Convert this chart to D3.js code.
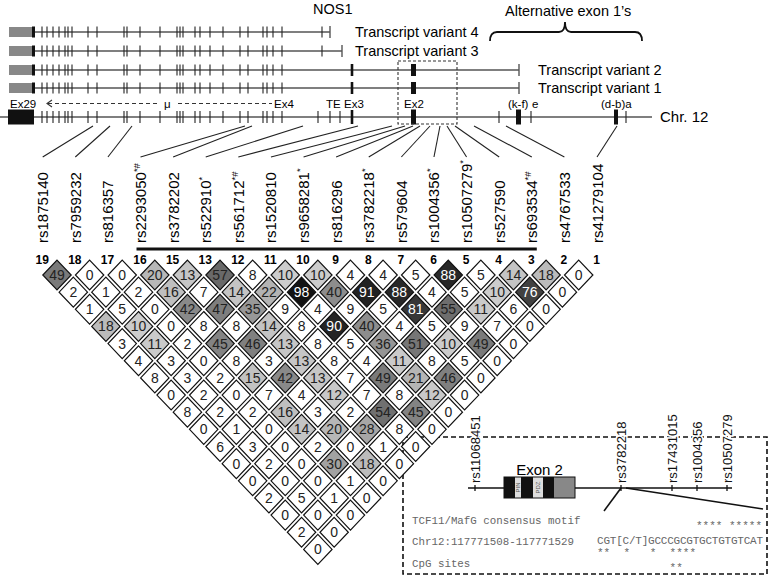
<!DOCTYPE html>
<html><head><meta charset="utf-8">
<script src="https://cdn.jsdelivr.net/npm/d3@7"></script>
<style>
body{margin:0;background:#fff}
svg{display:block}
text{font-family:"Liberation Sans",Arial,Helvetica,sans-serif}
.mono{font-family:"Liberation Mono","DejaVu Sans Mono",monospace;fill:#666}
</style>
</head><body><svg id="c" width="776" height="576"></svg>
<script>
// ---------- data ----------
const snpNumbers = [19,18,17,16,15,13,12,11,10,9,8,7,6,5,4,3,2,1];
const snpIds = ["rs1875140","rs7959232","rs816357","rs2293050","rs3782202","rs522910","rs561712","rs1520810","rs9658281","rs816296","rs3782218","rs579604","rs1004356","rs10507279","rs527590","rs693534","rs4767533","rs41279104"];
const snpMarks = ["","","","*#","","*","*#","","*","","*","","*","*","","*#","",""];
// approximate location along the gene (kb from the Ex29 end)
const snpGenomePos = [21.25,25.5,31,59.25,61,73.75,87.5,96,99.25,101.25,103,105.5,108,109.75,111.75,116.5,124.5,152.25];
// LD (r^2 x 100), rows by SNP distance 1..17
const ldRows = [
 [49,0,0,20,13,57,8,10,10,4,4,5,88,5,14,18,0],
 [2,1,2,16,7,14,22,98,40,91,88,4,5,10,76,0],
 [1,5,0,42,47,35,9,4,9,5,81,55,11,6,0],
 [18,10,0,8,8,14,8,90,40,4,5,9,7,0],
 [3,11,2,45,46,13,8,5,36,51,10,49,0],
 [4,3,0,8,3,13,8,4,11,8,5,0],
 [8,3,2,15,42,13,7,49,21,46,0],
 [0,2,0,7,4,12,7,8,12,0],
 [8,2,2,16,3,2,54,45,0],
 [0,1,0,14,20,28,8,0],
 [6,3,0,2,0,1,0],
 [0,2,0,30,18,0],
 [0,0,0,1,0],
 [2,5,1,0],
 [0,0,0],
 [2,0],
 [0]
];
const haplotypeBlock = [3, 15]; // SNP index range underlined
// gene model (kb)
const exonTicks = [8.5,9.75,11.25,12.75,14.25,15,16,20,22.25,29,29.75,33,38,42.25,43,43.75,46.75,48,50.5,53.75,58,60,63.75,64.75,66.25,68.5];
const firstExon = [0.25, 6, 6.75];
const transcripts = [
 {name:"Transcript variant 4", end:80.5, exons:[78.5], ex2:null},
 {name:"Transcript variant 3", end:83.5, exons:[78.5], ex2:null},
 {name:"Transcript variant 2", end:127.75, exons:[], ex3:86, ex2:[100.75,102]},
 {name:"Transcript variant 1", end:127.75, exons:[], ex3:86, ex2:[100.75,102]}
];
const chrTicks = [77.5,80.5,83,122.75,130.75,154.5];
const chrBoxes = [[0,6.5],[100.75,102],[127,128.25],[151.5,152.5]];
const chrEx3 = 86;
const chrLabels = [
 {t:"Ex29",p:0.5},{t:"μ",p:39},{t:"Ex4",p:66.5},{t:"TE",p:79.5},{t:"Ex3",p:84},{t:"Ex2",p:99},{t:"(k-f)",p:125},{t:"e",p:131},{t:"(d-b)a",p:148.25}
];
const ex2Window = [97.5, 112.25];
// inset
const insetSnps = ["rs11068451","rs3782218","rs17431015","rs1004356","rs10507279"];
const insetSnpPos = [7,153,204,229,259];
const exon2Parts = [[36,47,"b",""],[47,53,"w","PIN"],[53,65,"b",""],[65,75,"w","PDZ"],[75,86,"b",""],[86,107,"g",""]];
const seqText = "CGT[C/T]GCCCGCGTGCTGTGTCAT";
const motifMarks = "               **** *****";
const cpgMarks1 = "**  *   *  ****";
const cpgMarks2 = "           **";

// ---------- drawing ----------
const svg = d3.select("#c");
const gx = d3.scaleLinear().domain([0,161]).range([8,652]);
const sx = d3.scaleLinear().domain([0,17]).range([40.7,595]);
const ry = d3.scaleLinear().domain([1,17]).range([275,549.4]);
const gray = d3.scaleLinear().domain([10,100]).range([204,15]).clamp(true);
const fillFor = v => v < 10 ? "#fff" : d3.rgb(gray(v),gray(v),gray(v)).toString();

// inset box (behind triangle)
const ix = d3.scaleLinear().domain([0,264]).range([468,732]);
svg.append("rect").attr("x",403).attr("y",437).attr("width",364).attr("height",137)
  .attr("fill","none").attr("stroke","#111").attr("stroke-width",1.6).attr("stroke-dasharray","5,3");

// ---- gene model ----
const G = svg.append("g");
G.append("text").attr("x",313).attr("y",14).attr("font-size",14.5).text("NOS1");
G.append("text").attr("x",505).attr("y",16).attr("font-size",14.5).text("Alternative exon 1’s");
G.append("path").attr("d","M490,41 Q490,32 497,32 H559 Q565,32 565,22 Q565,32 571,32 H635 Q642,32 642,41")
  .attr("fill","none").attr("stroke","#111").attr("stroke-width",1.8);

const tY = [32,51,70,88];
const labX = [355,355,538,538];
transcripts.forEach((t,k)=>{
  const y = tY[k];
  G.append("line").attr("x1",gx(firstExon[2])).attr("x2",gx(t.end)).attr("y1",y).attr("y2",y).attr("stroke","#555").attr("stroke-width",1.4);
  G.append("line").attr("x1",gx(t.end)).attr("x2",gx(t.end)).attr("y1",y-6).attr("y2",y+6).attr("stroke","#555").attr("stroke-width",1.4);
  G.append("rect").attr("x",gx(firstExon[0])).attr("y",y-5).attr("width",gx(firstExon[1])-gx(firstExon[0])).attr("height",10).attr("fill","#888");
  G.append("rect").attr("x",gx(firstExon[1])).attr("y",y-5.5).attr("width",gx(firstExon[2])-gx(firstExon[1])).attr("height",11).attr("fill","#111");
  exonTicks.concat(t.exons).forEach(p=>{
    G.append("line").attr("x1",gx(p)).attr("x2",gx(p)).attr("y1",y-5.5).attr("y2",y+5.5).attr("stroke","#222").attr("stroke-width",1.1);
  });
  if (t.ex3) G.append("line").attr("x1",gx(t.ex3)).attr("x2",gx(t.ex3)).attr("y1",y-6).attr("y2",y+6).attr("stroke","#111").attr("stroke-width",2.6);
  if (t.ex2) G.append("rect").attr("x",gx(t.ex2[0])).attr("y",y-6).attr("width",gx(t.ex2[1])-gx(t.ex2[0])).attr("height",12).attr("fill","#111");
  G.append("text").attr("x",labX[k]).attr("y",y+5).attr("font-size",14.5).text(t.name);
});

// chromosome line
const cY = 117;
G.append("line").attr("x1",gx(-2)).attr("x2",gx(161)).attr("y1",cY).attr("y2",cY).attr("stroke","#555").attr("stroke-width",1.4);
exonTicks.concat(chrTicks).forEach(p=>{
  G.append("line").attr("x1",gx(p)).attr("x2",gx(p)).attr("y1",cY-6).attr("y2",cY+6).attr("stroke","#222").attr("stroke-width",1.1);
});
G.append("line").attr("x1",gx(chrEx3)).attr("x2",gx(chrEx3)).attr("y1",cY-7).attr("y2",cY+7).attr("stroke","#111").attr("stroke-width",2.6);
chrBoxes.forEach(b=>{
  G.append("rect").attr("x",gx(b[0])).attr("y",cY-7.5).attr("width",gx(b[1])-gx(b[0])).attr("height",15).attr("fill","#111");
});
chrLabels.forEach(l=>{
  G.append("text").attr("x",gx(l.p)).attr("y",107.5).attr("font-size",11.5).text(l.t);
});
// dashed arrow
G.append("line").attr("x1",gx(10)).attr("x2",gx(38)).attr("y1",103.5).attr("y2",103.5).attr("stroke","#333").attr("stroke-width",1.1).attr("stroke-dasharray","4,3");
G.append("line").attr("x1",gx(42.5)).attr("x2",gx(66)).attr("y1",103.5).attr("y2",103.5).attr("stroke","#333").attr("stroke-width",1.1).attr("stroke-dasharray","4,3");
G.append("path").attr("d",`M${gx(10)+4},100 L${gx(10)-1},103.5 L${gx(10)+4},107`).attr("fill","none").attr("stroke","#333").attr("stroke-width",1.1);
G.append("text").attr("x",660).attr("y",122).attr("font-size",15).text("Chr. 12");
// dashed window around Ex2
G.append("rect").attr("x",gx(ex2Window[0])).attr("y",61).attr("width",gx(ex2Window[1])-gx(ex2Window[0])).attr("height",63)
  .attr("fill","none").attr("stroke","#333").attr("stroke-width",1.1).attr("stroke-dasharray","3,2");

// ---- SNP labels & connectors ----
const L = svg.append("g");
snpIds.forEach((id,i)=>{
  const cx = sx(i)+2;
  L.append("line").attr("x1",gx(snpGenomePos[i])).attr("y1",126).attr("x2",cx).attr("y2",157)
    .attr("stroke","#222").attr("stroke-width",1.1);
  const t = L.append("text").attr("transform",`translate(${cx+5.5},243) rotate(-90)`).attr("font-size",15).text(id);
  if (snpMarks[i]) t.append("tspan").attr("font-size",9.5).attr("dy",-6).text(snpMarks[i]);
});
L.append("line").attr("x1",sx(haplotypeBlock[0])-2).attr("x2",sx(haplotypeBlock[1])+7).attr("y1",249).attr("y2",249)
  .attr("stroke","#111").attr("stroke-width",3);
snpNumbers.forEach((n,i)=>{
  L.append("text").attr("x",sx(i)+1.5).attr("y",264).attr("text-anchor","middle").attr("font-size",12).attr("font-weight","bold").text(n);
});

// ---- LD triangle ----
const T = svg.append("g");
const hw = (sx(1)-sx(0))/2 - 2.1, hh = (ry(2)-ry(1)) - 2.2;
ldRows.forEach((row,r)=>{
  const d = r+1;
  row.forEach((v,i)=>{
    const cx = (sx(i)+sx(i+d))/2, cy = ry(d);
    T.append("path").attr("d",`M${cx},${cy-hh} L${cx+hw},${cy} L${cx},${cy+hh} L${cx-hw},${cy} Z`)
      .attr("fill",fillFor(v)).attr("stroke","#111").attr("stroke-width",1.2);
    T.append("text").attr("x",cx).attr("y",cy+5).attr("text-anchor","middle").attr("font-size",14)
      .attr("fill", v>=70 ? "#fff" : "#222").text(v);
  });
});

// ---- inset ----
const I = svg.append("g");
const iy = 488;
I.append("line").attr("x1",ix(0)).attr("x2",ix(264)).attr("y1",iy).attr("y2",iy).attr("stroke","#111").attr("stroke-width",1.6);
insetSnps.forEach((s,k)=>{
  const x = ix(insetSnpPos[k]);
  I.append("line").attr("x1",x).attr("x2",x).attr("y1",iy-3).attr("y2",iy+3).attr("stroke","#111").attr("stroke-width",1.3);
  I.append("text").attr("transform",`translate(${x+4.5},483) rotate(-90)`).attr("font-size",13)
    .attr("stroke","#fff").attr("stroke-width",3).attr("paint-order","stroke").attr("fill","#111").text(s);
});
exon2Parts.forEach(p=>{
  const x0 = ix(p[0]), w = ix(p[1])-ix(p[0]);
  I.append("rect").attr("x",x0).attr("y",477).attr("width",w).attr("height",21)
    .attr("fill", p[2]==="b" ? "#111" : p[2]==="g" ? "#888" : "#ddd");
  if (p[3]) I.append("text").attr("transform",`translate(${x0+w/2+2},${487.5}) rotate(-90)`).attr("text-anchor","middle")
    .attr("font-size",6).attr("fill","#555").text(p[3]);
});
I.append("rect").attr("x",ix(36)).attr("y",477).attr("width",ix(107)-ix(36)).attr("height",21).attr("fill","none").attr("stroke","#111").attr("stroke-width",1);
I.append("text").attr("x",(ix(36)+ix(107))/2).attr("y",475).attr("text-anchor","middle").attr("font-size",15).text("Exon 2");
I.append("line").attr("x1",ix(153)).attr("y1",iy).attr("x2",ix(136)).attr("y2",511).attr("stroke","#111").attr("stroke-width",1.6);
I.append("line").attr("x1",ix(158)).attr("y1",iy).attr("x2",ix(295)).attr("y2",509).attr("stroke","#111").attr("stroke-width",1.6);
I.append("text").attr("class","mono").attr("x",412).attr("y",524).attr("font-size",10.8).text("TCF11/MafG consensus motif");
I.append("text").attr("class","mono").attr("x",412).attr("y",545).attr("font-size",10.8).text("Chr12:117771508-117771529");
I.append("text").attr("class","mono").attr("x",412).attr("y",567).attr("font-size",10.8).text("CpG sites");
I.append("text").attr("class","mono").attr("x",597).attr("y",544).attr("font-size",11).attr("textLength",166).text(seqText);
I.append("text").attr("class","mono").attr("x",597).attr("y",529).attr("font-size",11).attr("xml:space","preserve").style("white-space","pre").text(motifMarks);
I.append("text").attr("class","mono").attr("x",597).attr("y",556).attr("font-size",11).style("white-space","pre").text(cpgMarks1);
I.append("text").attr("class","mono").attr("x",597).attr("y",571).attr("font-size",11).style("white-space","pre").text(cpgMarks2);
</script>
</body></html>
